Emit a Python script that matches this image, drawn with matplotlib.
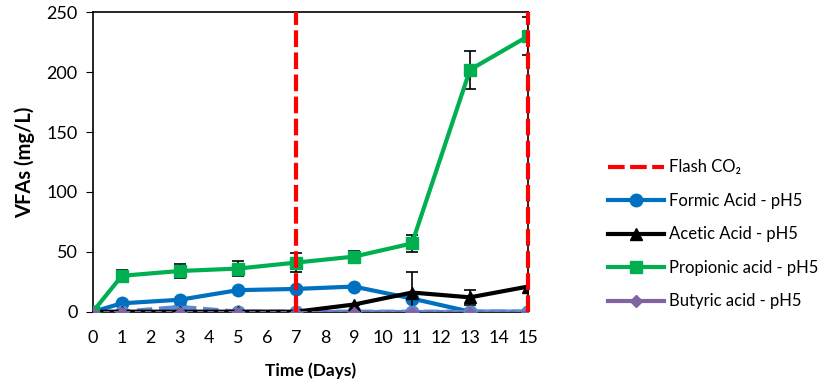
import numpy as np
import matplotlib.pyplot as plt
from matplotlib.lines import Line2D

days = [0, 1, 3, 5, 7, 9, 11, 13, 15]
formic = [0, 7, 10, 18, 19, 21, 11, 0, 0]
acetic = [0, 0, 0, 0, 0, 6, 16, 12, 21]
acetic_err = [0, 0, 0, 0, 0, 0, 17, 6, 0]
propionic = [0, 30, 34, 36, 41, 46, 57, 202, 230]
propionic_err = [0, 5, 6, 6, 8, 5, 7, 16, 16]
butyric = [0, 0, 0, 0, 0, 0, 0, 0, 0]
hidden = [0, 0, 4, 0, 0, 0, 0, 0, 0]
flash_days = [7, 15]

plt.rcParams['font.family'] = ['Lato', 'DejaVu Sans']

fig = plt.figure(figsize=(8.29, 3.82), dpi=100)
ax = fig.add_axes([0.112, 0.184, 0.525, 0.784])

# red flash lines
for d in flash_days:
    ax.plot([d, d], [0, 250], color='#FF0000', lw=3, ls=(0, (4, 1.3)),
            zorder=5, clip_on=False)

ax.plot(days, formic, color='#0070C0', lw=3, marker='o', ms=9, zorder=3)
ax.errorbar(days, acetic, yerr=acetic_err, color='black', lw=3, marker='^',
            ms=8, ecolor='black', elinewidth=1.2, capsize=4, capthick=1.2,
            zorder=3)
ax.errorbar(days, propionic, yerr=propionic_err, color='#00B050', lw=3,
            marker='s', ms=8, ecolor='black', elinewidth=1.2, capsize=4,
            capthick=1.2, zorder=3)
ax.plot(days, hidden, color='#5B8BD0', lw=3, ls='--', marker='o', ms=9,
        zorder=2)
ax.plot(days, butyric, color='#5B8BD0', lw=3, marker='o', ms=9, zorder=3)
ax.plot(days, butyric, color='#8064A2', lw=1.5, ls=(0, (3, 2)), marker='D',
        ms=5, zorder=4)

ax.set_xlim(0, 15)
ax.set_ylim(0, 250)
ax.set_xticks(range(0, 16))
ax.set_xticks(range(2, 16, 2), minor=True)
ax.tick_params(axis='x', which='major', length=0, labelsize=13, pad=13)
ax.tick_params(axis='x', which='minor', length=5, width=1)
ax.set_yticks(range(0, 251, 50))
ax.tick_params(axis='y', length=5, labelsize=13, pad=6)
for s in ax.spines.values():
    s.set_linewidth(1.2)

ax.set_xlabel('Time (Days)', fontsize=12.5, fontweight='bold', labelpad=12)
ax.set_ylabel('VFAs (mg/L)', fontsize=14.5, fontweight='bold', labelpad=8)

handles = [
    Line2D([], [], color='#FF0000', lw=3, ls=(0, (4, 1.3))),
    Line2D([], [], color='#0070C0', lw=3, marker='o', ms=9),
    Line2D([], [], color='black', lw=3, marker='^', ms=8),
    Line2D([], [], color='#00B050', lw=3, marker='s', ms=8),
    Line2D([], [], color='#8064A2', lw=3, marker='D', ms=6),
]
labels = ['Flash CO₂', 'Formic Acid - pH5', 'Acetic Acid - pH5',
          'Propionic acid - pH5', 'Butyric acid - pH5']
fig.legend(handles, labels, loc='upper left', bbox_to_anchor=(0.715, 0.622),
           frameon=False, fontsize=12, handlelength=3.4, labelspacing=1.05,
           handletextpad=0.3)

fig.savefig('out.png', dpi=100)
